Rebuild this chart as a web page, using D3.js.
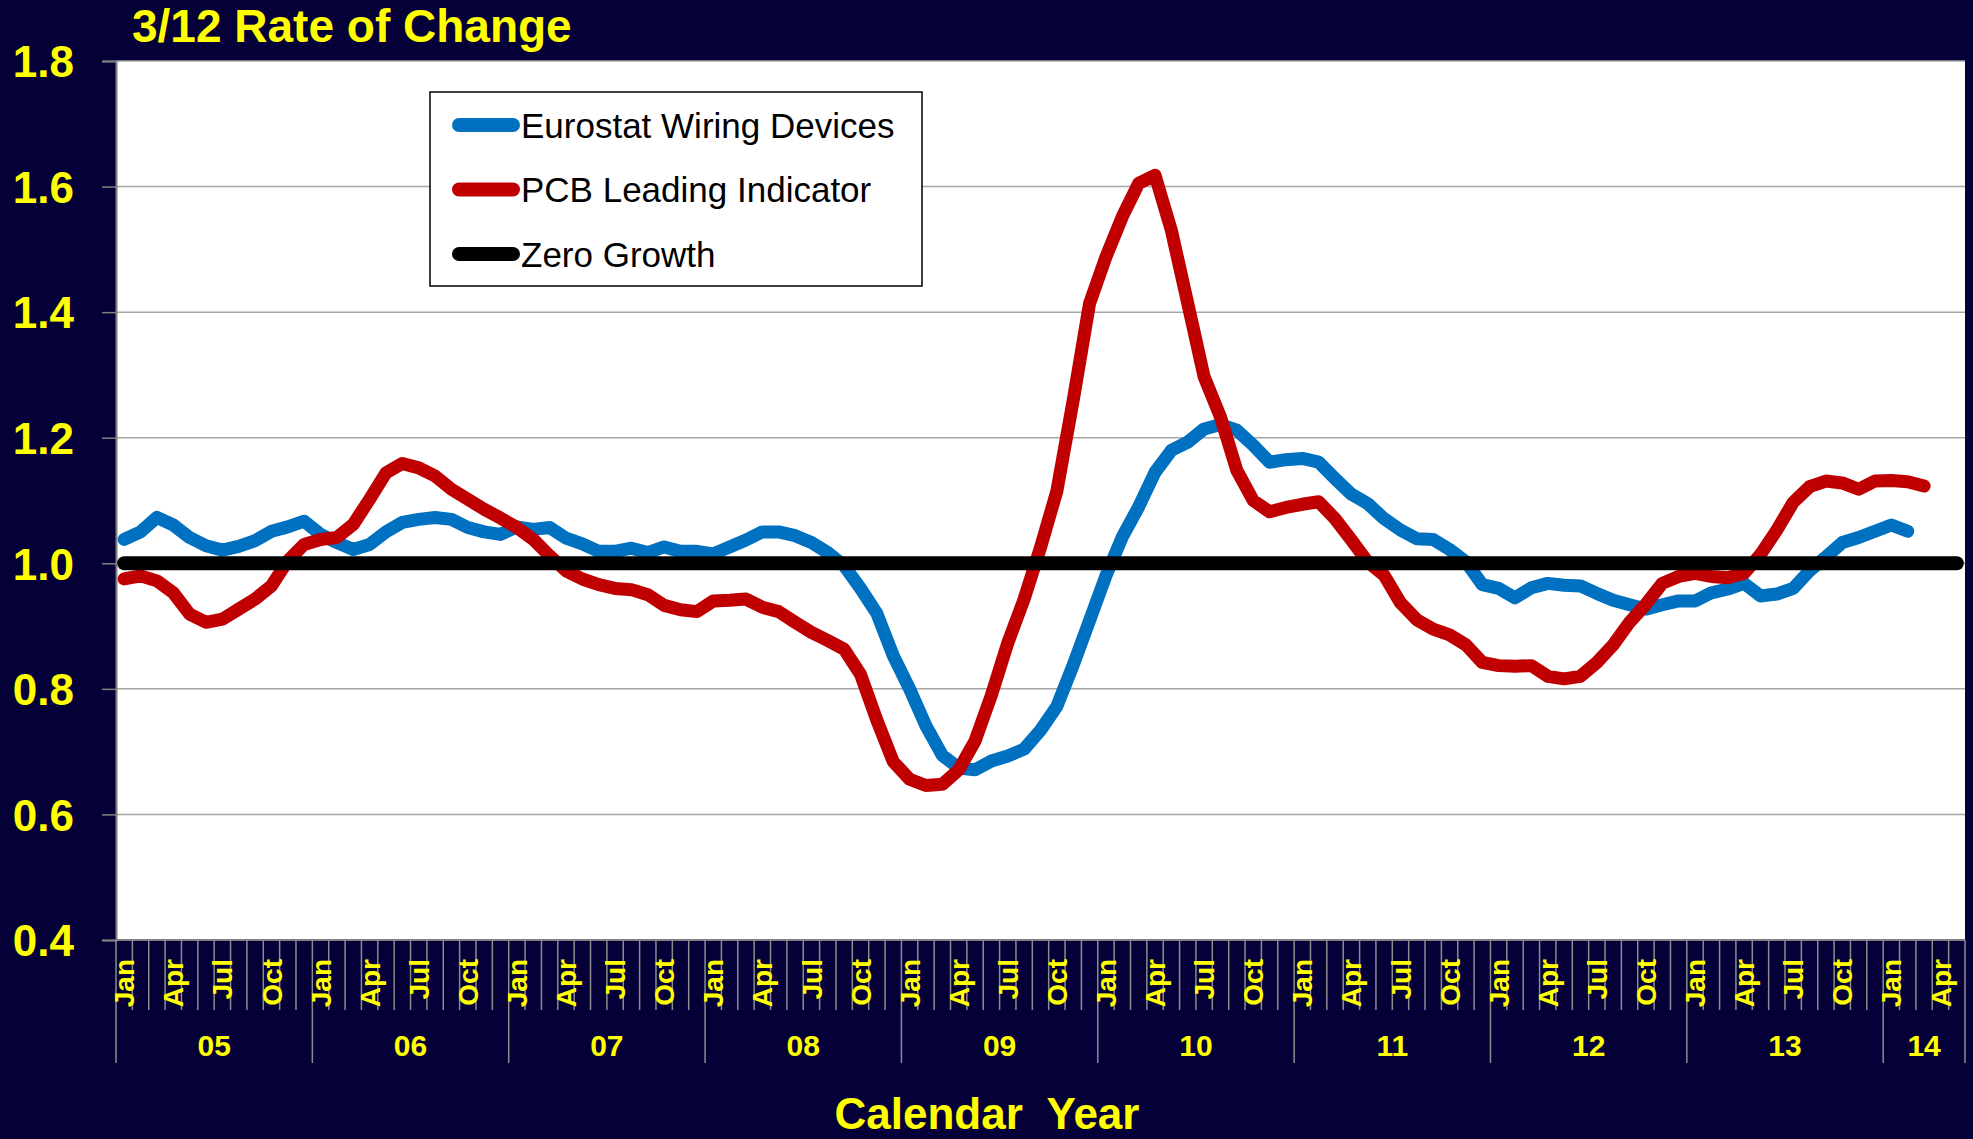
<!DOCTYPE html>
<html>
<head>
<meta charset="utf-8">
<script src="https://cdn.jsdelivr.net/npm/d3@7"></script>
<style>
  html, body { margin: 0; padding: 0; background: #060038; }
  svg { display: block; font-family: "Liberation Sans", Arial, sans-serif; }
</style>
</head>
<body>
<div id="svgDiv"></div>
<script>
var width = 1973,
    height = 1139;

// tick labels
var yearLabels = ["05", "06", "07", "08", "09", "10", "11", "12", "13", "14"];
var monthNames = ["Jan", "Feb", "Mar", "Apr", "May", "Jun", "Jul", "Aug", "Sep", "Oct", "Nov", "Dec"];
var yTicks = [0.4, 0.6, 0.8, 1.0, 1.2, 1.4, 1.6, 1.8];

// Jan 05 .. May 14
var categories = [];
yearLabels.forEach(function(yr, k) {
  var nMonths = (yr == "14") ? 5 : 12;
  for (var m = 0; m < nMonths; m++) categories.push({ key: yr + "-" + m, year: yr, month: m });
});

// series values, one per month from Jan 05
var eurostat = [1.038, 1.050, 1.073, 1.061, 1.041, 1.028, 1.021, 1.027, 1.036, 1.051, 1.058, 1.067,
  1.046, 1.033, 1.022, 1.030, 1.050, 1.065, 1.070, 1.073, 1.070, 1.057, 1.050, 1.046,
  1.058, 1.054, 1.057, 1.040, 1.031, 1.019, 1.019, 1.024, 1.017, 1.026, 1.019, 1.019,
  1.015, 1.026, 1.037, 1.050, 1.050, 1.044, 1.033, 1.017, 0.996, 0.960, 0.920, 0.853,
  0.800, 0.741, 0.694, 0.674, 0.671, 0.685, 0.693, 0.704, 0.734, 0.772, 0.838, 0.909,
  0.980, 1.042, 1.090, 1.145, 1.180, 1.193, 1.214, 1.221, 1.212, 1.188, 1.161, 1.165,
  1.167, 1.161, 1.135, 1.110, 1.095, 1.071, 1.053, 1.039, 1.038, 1.022, 1.002, 0.966,
  0.960, 0.945, 0.961, 0.968, 0.965, 0.964, 0.952, 0.941, 0.934, 0.927, 0.934, 0.940,
  0.940, 0.953, 0.959, 0.968, 0.948, 0.951, 0.960, 0.988, 1.010, 1.033, 1.041, 1.051,
  1.061, 1.051];

var pcb = [0.975, 0.980, 0.972, 0.953, 0.919, 0.906, 0.911, 0.927, 0.943, 0.964, 1.004, 1.030,
  1.038, 1.041, 1.062, 1.102, 1.144, 1.159, 1.152, 1.139, 1.118, 1.102, 1.086, 1.072,
  1.057, 1.038, 1.012, 0.988, 0.975, 0.966, 0.960, 0.958, 0.950, 0.933, 0.926, 0.923,
  0.940, 0.941, 0.943, 0.930, 0.923, 0.906, 0.890, 0.877, 0.863, 0.823, 0.750, 0.684,
  0.656, 0.646, 0.648, 0.671, 0.717, 0.790, 0.873, 0.943, 1.025, 1.115, 1.260, 1.414,
  1.488, 1.552, 1.605, 1.618, 1.530, 1.414, 1.297, 1.233, 1.148, 1.100, 1.082, 1.089,
  1.094, 1.098, 1.071, 1.037, 1.002, 0.981, 0.937, 0.910, 0.895, 0.886, 0.870, 0.842,
  0.837, 0.836, 0.837, 0.820, 0.816, 0.820, 0.842, 0.870, 0.906, 0.935, 0.968, 0.979,
  0.984, 0.979, 0.977, 0.984, 1.014, 1.053, 1.097, 1.122, 1.131, 1.128, 1.118, 1.131,
  1.132, 1.130, 1.123];

var zeroGrowth = categories.map(function() { return 1.0; });

var seriesNames = ["Eurostat Wiring Devices", "PCB Leading Indicator", "Zero Growth"];
var seriesColors = ["#0070C0", "#C00000", "#000000"];

var plotLeft = 116, plotRight = 1965, plotTop = 61, plotBottom = 940;

var svg = d3.select("#svgDiv").append("svg")
  .attr("width", width)
  .attr("height", height);

svg.append("rect")
  .attr("width", width)
  .attr("height", height)
  .attr("fill", "#060038");

// scales
var x = d3.scaleBand()
  .domain(categories.map(function(d) { return d.key; }))
  .range([plotLeft, plotRight])
  .padding(0);

var y = d3.scaleLinear()
  .domain([0.4, 1.8])
  .range([plotBottom, plotTop]);

function xc(i) { return x(categories[i].key) + x.bandwidth() / 2; }

// plot area
svg.append("rect")
  .attr("x", plotLeft)
  .attr("y", plotTop)
  .attr("width", plotRight - plotLeft)
  .attr("height", plotBottom - plotTop)
  .attr("fill", "white");

// gridlines
svg.append("g")
  .selectAll("line")
  .data(yTicks.filter(function(d) { return d > 0.4; }))
  .enter().append("line")
  .attr("x1", plotLeft)
  .attr("x2", plotRight)
  .attr("y1", function(d) { return y(d); })
  .attr("y2", function(d) { return y(d); })
  .attr("stroke", "#a6a6a6")
  .attr("stroke-width", 1.5);

// y axis
var yAxis = svg.append("g")
  .attr("transform", "translate(" + plotLeft + ",0)")
  .call(d3.axisLeft(y).tickValues(yTicks).tickSize(14).tickPadding(28).tickFormat(d3.format(".1f")));

yAxis.select(".domain").attr("stroke", "#808080").attr("stroke-width", 2);
yAxis.selectAll(".tick line").attr("stroke", "#808080").attr("stroke-width", 1.5);
yAxis.selectAll(".tick text")
  .attr("fill", "#FFFF00")
  .attr("font-size", 44)
  .attr("font-weight", "bold")
  .attr("font-family", "'Liberation Sans', Arial, sans-serif")
  .attr("dy", "0.36em");

// x axis line
svg.append("line")
  .attr("x1", plotLeft)
  .attr("x2", plotRight)
  .attr("y1", plotBottom)
  .attr("y2", plotBottom)
  .attr("stroke", "#808080")
  .attr("stroke-width", 2);

// month ticks at each category boundary, longer at year starts
var bounds = d3.range(categories.length + 1);
svg.append("g")
  .selectAll("line")
  .data(bounds)
  .enter().append("line")
  .attr("x1", function(i) { return i < categories.length ? x(categories[i].key) : plotRight; })
  .attr("x2", function(i) { return i < categories.length ? x(categories[i].key) : plotRight; })
  .attr("y1", plotBottom)
  .attr("y2", function(i) {
    var yearStart = (i < categories.length && categories[i].month == 0) || i == categories.length;
    return yearStart ? 1063 : 1010;
  })
  .attr("stroke", "#8c8c8c")
  .attr("stroke-width", 1.5);

// month labels
svg.append("g")
  .selectAll("text")
  .data(categories.filter(function(d) { return d.month % 3 == 0; }))
  .enter().append("text")
  .attr("transform", function(d) {
    return "translate(" + (x(d.key) + x.bandwidth() / 2) + ",959) rotate(-90)";
  })
  .attr("text-anchor", "end")
  .attr("dy", "0.36em")
  .attr("fill", "#FFFF00")
  .attr("font-size", 28)
  .attr("font-weight", "bold")
  .text(function(d) { return monthNames[d.month]; });

// year labels
svg.append("g")
  .selectAll("text")
  .data(yearLabels)
  .enter().append("text")
  .attr("x", function(yr) {
    var cats = categories.filter(function(d) { return d.year == yr; });
    var a = x(cats[0].key), b = x(cats[cats.length - 1].key) + x.bandwidth();
    return (a + b) / 2;
  })
  .attr("y", 1056)
  .attr("text-anchor", "middle")
  .attr("fill", "#FFFF00")
  .attr("font-size", 30)
  .attr("font-weight", "bold")
  .text(function(d) { return d; });

// lines
var line = d3.line()
  .defined(function(d) { return d != null; })
  .x(function(d, i) { return xc(i); })
  .y(function(d) { return y(d); });

var allSeries = [eurostat, pcb, zeroGrowth];
var widths = [13, 13, 14];

svg.append("g")
  .selectAll("path")
  .data(allSeries)
  .enter().append("path")
  .attr("d", function(d) { return line(d); })
  .attr("fill", "none")
  .attr("stroke", function(d, i) { return seriesColors[i]; })
  .attr("stroke-width", function(d, i) { return widths[i]; })
  .attr("stroke-linejoin", "round")
  .attr("stroke-linecap", "round");

// legend
var legend = svg.append("g");

legend.append("rect")
  .attr("x", 430)
  .attr("y", 92)
  .attr("width", 492)
  .attr("height", 194)
  .attr("fill", "white")
  .attr("stroke", "black")
  .attr("stroke-width", 1.5);

var legendRows = legend.selectAll("g.row")
  .data(seriesNames)
  .enter().append("g")
  .attr("class", "row")
  .attr("transform", function(d, i) { return "translate(0," + (125 + i * 64.5) + ")"; });

legendRows.append("line")
  .attr("x1", 459)
  .attr("x2", 513)
  .attr("stroke", function(d, i) { return seriesColors[i]; })
  .attr("stroke-width", 14)
  .attr("stroke-linecap", "round");

legendRows.append("text")
  .attr("x", 521)
  .attr("y", 12.5)
  .attr("fill", "black")
  .attr("font-size", 35)
  .text(function(d) { return d; });

// titles
svg.append("text")
  .attr("x", 132)
  .attr("y", 42)
  .attr("fill", "#FFFF00")
  .attr("font-size", 46)
  .attr("font-weight", "bold")
  .text("3/12 Rate of Change");

svg.append("text")
  .attr("x", 987)
  .attr("y", 1129)
  .attr("text-anchor", "middle")
  .attr("fill", "#FFFF00")
  .attr("font-size", 44)
  .attr("font-weight", "bold")
  .style("white-space", "pre")
  .text("Calendar  Year");
</script>
</body>
</html>
